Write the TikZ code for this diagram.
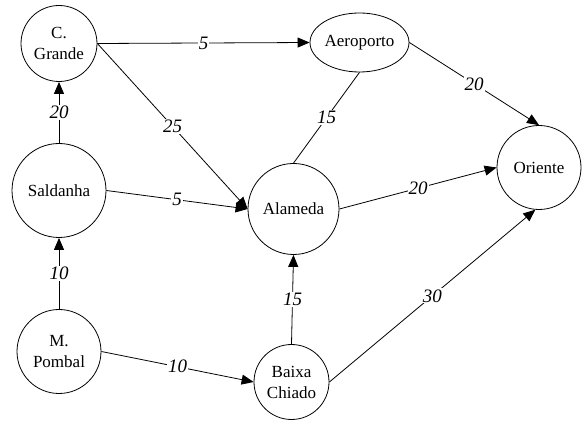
\documentclass[tikz,border=0pt]{standalone}
\usepackage{fontspec}
\setmainfont{Liberation Serif}
\newfontfamily\tms{Liberation Serif}
\usetikzlibrary{shapes.geometric,arrows.meta}
\begin{document}
\begin{tikzpicture}[x=1pt,y=-1pt,
  station/.style={draw, circle, line width=0.8pt, inner sep=0pt, align=center,
    font=\tms\fontsize{17}{21}\selectfont},
  oval/.style={draw, ellipse, line width=0.8pt, inner sep=0pt, align=center,
    font=\tms\fontsize{17}{21}\selectfont},
  link/.style={line width=0.8pt, -{Triangle[length=12pt,width=10pt]}},
  plain/.style={line width=0.8pt},
  wt/.style={fill=white, inner sep=1pt, font=\tms\fontsize{19}{21}\selectfont\itshape}]
\useasboundingbox (0,0) rectangle (582,422);
\node[station, minimum size=76pt] (cg) at (59,43.5) {C.\\Grande};
\node[oval, minimum width=99pt, minimum height=59pt] (ae) at (359.5,42.5) {Aeroporto};
\node[station, minimum size=84pt] (or) at (539,167.5) {Oriente};
\node[station, minimum size=94pt] (sa) at (59,190.5) {Saldanha};
\node[station, minimum size=91pt] (al) at (293.5,209) {Alameda};
\node[station, minimum size=84pt] (mp) at (59,351.5) {M.\\Pombal};
\node[station, minimum size=75pt] (bc) at (291.5,382) {Baixa\\Chiado};

\draw[link] (cg.east) -- node[wt] {5} (ae.west);
\draw[link] (cg.east) -- node[wt] {25} (al.west);
\draw[link] (sa.north) -- node[wt] {20} (cg.south);
\draw[link] (sa.east) -- node[wt] {5} (al.west);
\draw[link] (mp.north) -- node[wt] {10} (sa.south);
\draw[link] (mp.east) -- node[wt] {10} (bc.west);
\draw[link] (bc.north) -- node[wt] {15} (al.south);
\draw[link] (bc.east) -- node[wt] {30} (or.265);
\draw[link] (al.east) -- node[wt] {20} (or.west);
\draw[link] (ae.east) -- node[wt] {20} (or.north);
\draw[plain] (ae.south) -- node[wt] {15} (al.north);
\end{tikzpicture}
\end{document}
